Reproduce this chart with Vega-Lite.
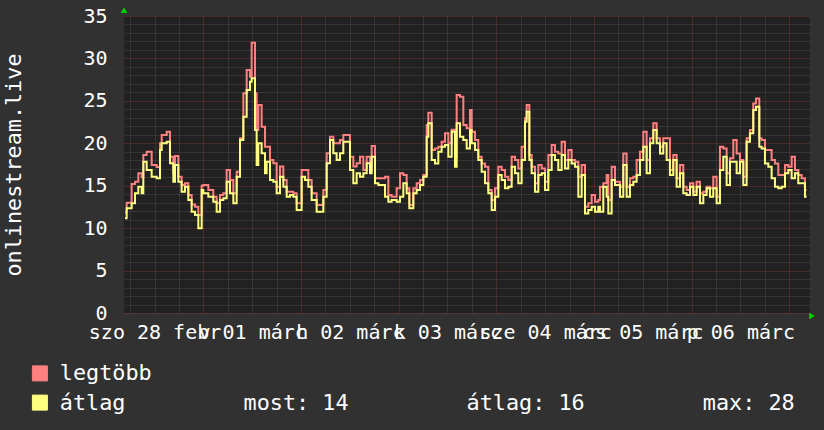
{
"$schema": "https://vega.github.io/schema/vega-lite/v6.json",
"width": 686, "height": 297,
"autosize": {"type": "none"},
"padding": {"left": 124, "top": 16, "right": 14, "bottom": 117},
"background": "#313131",
"config": {
  "view": {"fill": "#212121", "stroke": null},
  "font": "DejaVu Sans Mono",
  "axis": {"labelFont": "DejaVu Sans Mono", "titleFont": "DejaVu Sans Mono", "labelColor": "#ffffff", "titleColor": "#ffffff", "domain": false, "ticks": false, "gridOpacity": 1},
  "legend": {"labelFont": "DejaVu Sans Mono", "labelFontSize": 21.8, "labelColor": "#ffffff"}
},
"data": {"values": [
{"h":4.75,"max":11.83,"avg":11.16},{"h":5.15,"max":13.0,"avg":12.34},{"h":6.38,"max":15.2,"avg":12.93},{"h":7.2,"max":15.48,"avg":14.1},{"h":8.02,"max":16.46,"avg":14.89},{"h":8.84,"max":16.0,"avg":14.1},{"h":9.25,"max":18.62,"avg":17.83},{"h":10.07,"max":19.0,"avg":16.85},{"h":11.3,"max":17.44,"avg":16.07},{"h":12.53,"max":17.2,"avg":15.87},{"h":13.35,"max":20.0,"avg":19.21},{"h":13.76,"max":20.98,"avg":20.0},{"h":14.99,"max":21.37,"avg":20.19},{"h":15.8,"max":18.42,"avg":17.64},{"h":16.62,"max":16.5,"avg":15.48},{"h":17.03,"max":18.5,"avg":17.44},{"h":17.85,"max":16.07,"avg":15.48},{"h":18.67,"max":15.09,"avg":14.3},{"h":19.49,"max":15.3,"avg":14.89},{"h":20.31,"max":13.91,"avg":13.32},{"h":21.13,"max":12.8,"avg":11.94},{"h":21.95,"max":12.53,"avg":11.55},{"h":22.77,"max":11.55,"avg":10.0},{"h":23.59,"max":15.0,"avg":14.5},{"h":24.0,"max":15.09,"avg":14.1},{"h":25.23,"max":14.5,"avg":13.71},{"h":26.45,"max":13.71,"avg":13.12},{"h":27.27,"max":12.93,"avg":11.94},{"h":28.09,"max":13.9,"avg":13.32},{"h":28.91,"max":14.1,"avg":13.52},{"h":29.73,"max":16.85,"avg":15.48},{"h":30.55,"max":15.68,"avg":14.1},{"h":31.37,"max":14.1,"avg":12.93},{"h":32.19,"max":16.65,"avg":16.07},{"h":33.01,"max":20.6,"avg":20.39},{"h":33.83,"max":25.89,"avg":23.14},{"h":34.65,"max":28.64,"avg":26.28},{"h":35.47,"max":27.85,"avg":27.26},{"h":35.87,"max":31.86,"avg":27.66},{"h":36.7,"max":25.89,"avg":21.57},{"h":37.1,"max":21.57,"avg":17.44},{"h":37.51,"max":24.51,"avg":20.0},{"h":38.33,"max":21.96,"avg":18.82},{"h":39.15,"max":19.6,"avg":16.46},{"h":39.56,"max":19.6,"avg":17.83},{"h":40.38,"max":18.03,"avg":15.68},{"h":41.2,"max":17.64,"avg":15.48},{"h":42.02,"max":14.89,"avg":14.1},{"h":42.84,"max":17.25,"avg":16.07},{"h":43.66,"max":15.68,"avg":14.89},{"h":44.48,"max":14.3,"avg":13.71},{"h":45.3,"max":14.3,"avg":13.91},{"h":46.12,"max":14.1,"avg":13.71},{"h":46.93,"max":12.93,"avg":12.14},{"h":48.16,"max":16.85,"avg":16.07},{"h":48.98,"max":16.85,"avg":15.68},{"h":49.8,"max":15.68,"avg":14.89},{"h":50.62,"max":14.1,"avg":13.32},{"h":51.85,"max":12.73,"avg":11.94},{"h":53.49,"max":14.5,"avg":13.71},{"h":54.31,"max":18.82,"avg":17.64},{"h":55.13,"max":20.78,"avg":20.39},{"h":55.95,"max":19.99,"avg":18.82},{"h":56.76,"max":19.99,"avg":18.03},{"h":57.58,"max":20.39,"avg":18.82},{"h":58.4,"max":20.98,"avg":20.19},{"h":60.04,"max":18.42,"avg":16.85},{"h":60.86,"max":17.25,"avg":15.28},{"h":61.68,"max":17.64,"avg":16.46},{"h":62.5,"max":18.42,"avg":16.07},{"h":63.32,"max":16.85,"avg":16.46},{"h":64.14,"max":18.42,"avg":17.64},
{"h":64.96,"max":16.85,"avg":16.46},{"h":65.37,"max":19.68,"avg":18.42},{"h":66.19,"max":15.87,"avg":15.28},{"h":67.01,"max":15.87,"avg":15.08},{"h":68.65,"max":16.06,"avg":13.71},{"h":69.47,"max":13.9,"avg":13.12},{"h":70.28,"max":13.71,"avg":13.31},{"h":71.51,"max":14.69,"avg":13.12},{"h":72.33,"max":16.46,"avg":13.71},{"h":73.15,"max":16.26,"avg":15.28},{"h":73.97,"max":14.69,"avg":14.1},{"h":74.63,"max":12.72,"avg":12.33},{"h":75.61,"max":14.69,"avg":14.1},{"h":76.43,"max":15.28,"avg":14.49},{"h":77.25,"max":15.67,"avg":15.08},{"h":78.07,"max":16.26,"avg":16.06},{"h":78.89,"max":22.15,"avg":20.78},{"h":79.3,"max":23.6,"avg":22.35},{"h":80.12,"max":19.21,"avg":18.03},{"h":80.93,"max":19.4,"avg":17.63},{"h":81.75,"max":19.6,"avg":19.01},{"h":82.57,"max":20.19,"avg":19.6},{"h":83.39,"max":21.17,"avg":19.79},{"h":84.21,"max":19.99,"avg":18.42},{"h":85.03,"max":21.6,"avg":21.37},{"h":85.85,"max":18.42,"avg":17.24},{"h":86.26,"max":25.69,"avg":22.35},{"h":87.08,"max":25.49,"avg":20.78},{"h":87.9,"max":22.15,"avg":20.38},{"h":88.72,"max":21.76,"avg":19.4},{"h":89.54,"max":23.92,"avg":21.56},{"h":89.95,"max":21.37,"avg":19.99},{"h":90.76,"max":20.38,"avg":19.21},{"h":91.58,"max":18.42,"avg":18.03},{"h":92.4,"max":17.63,"avg":16.65},{"h":93.22,"max":17.24,"avg":15.28},{"h":94.04,"max":14.49,"avg":14.1},{"h":94.86,"max":13.31,"avg":12.13},{"h":95.68,"max":14.69,"avg":13.71},{"h":96.5,"max":17.24,"avg":16.26},{"h":97.32,"max":16.85,"avg":15.67},{"h":98.14,"max":16.06,"avg":14.69},{"h":98.96,"max":15.67,"avg":14.88},{"h":99.78,"max":18.42,"avg":17.24},{"h":100.6,"max":18.03,"avg":16.46},{"h":101.41,"max":17.04,"avg":15.28},{"h":102.23,"max":19.6,"avg":18.03},{"h":103.05,"max":22.94,"avg":22.54},{"h":103.46,"max":24.51,"avg":23.72},{"h":104.12,"max":18.62,"avg":18.03},{"h":104.69,"max":17.24,"avg":16.46},{"h":105.51,"max":15.28,"avg":14.3},{"h":106.33,"max":17.44,"avg":16.26},{"h":107.15,"max":17.04,"avg":16.46},{"h":107.97,"max":15.47,"avg":14.49},{"h":108.79,"max":18.62,"avg":16.85},{"h":109.61,"max":19.79,"avg":18.62},{"h":110.43,"max":19.01,"avg":18.03},{"h":111.24,"max":18.81,"avg":16.85},{"h":112.06,"max":20.19,"avg":18.62},{"h":112.88,"max":18.03,"avg":17.04},{"h":113.7,"max":19.21,"avg":18.03},{"h":114.52,"max":18.03,"avg":17.63},{"h":115.34,"max":17.83,"avg":17.24},{"h":116.16,"max":16.06,"avg":13.71},{"h":116.98,"max":17.44,"avg":16.26},{"h":117.8,"max":12.53,"avg":11.74},{"h":118.62,"max":12.92,"avg":12.13},{"h":119.44,"max":13.9,"avg":12.53},{"h":120.26,"max":13.12,"avg":11.94},{"h":121.07,"max":13.31,"avg":12.53},
{"h":121.48,"max":14.88,"avg":11.94},{"h":122.3,"max":15.28,"avg":14.88},{"h":123.12,"max":16.26,"avg":13.71},{"h":123.53,"max":13.31,"avg":11.74},{"h":124.35,"max":17.24,"avg":15.67},{"h":125.17,"max":15.47,"avg":15.08},{"h":126.4,"max":14.88,"avg":13.71},{"h":127.21,"max":18.81,"avg":17.44},{"h":128.03,"max":14.88,"avg":13.71},{"h":128.85,"max":15.87,"avg":15.08},{"h":129.67,"max":16.06,"avg":15.47},{"h":130.49,"max":18.03,"avg":16.26},{"h":131.31,"max":19.01,"avg":18.03},{"h":132.13,"max":21.37,"avg":19.6},{"h":132.95,"max":18.03,"avg":16.46},{"h":133.77,"max":20.58,"avg":19.99},{"h":134.59,"max":22.35,"avg":21.56},{"h":135.41,"max":20.58,"avg":19.99},{"h":136.23,"max":19.6,"avg":18.81},{"h":137.04,"max":20.58,"avg":19.99},{"h":137.86,"max":20.58,"avg":18.03},{"h":138.68,"max":16.85,"avg":16.26},{"h":139.5,"max":18.62,"avg":18.03},{"h":140.32,"max":15.87,"avg":14.88},{"h":141.14,"max":17.44,"avg":16.46},{"h":141.96,"max":14.88,"avg":14.1},{"h":142.78,"max":14.49,"avg":13.9},{"h":143.6,"max":15.28,"avg":14.88},{"h":144.42,"max":14.3,"avg":13.9},{"h":145.24,"max":15.47,"avg":14.88},{"h":146.06,"max":14.1,"avg":12.92},{"h":146.88,"max":14.3,"avg":13.9},{"h":147.69,"max":14.88,"avg":14.69},{"h":148.51,"max":14.69,"avg":13.71},{"h":149.33,"max":16.06,"avg":14.69},{"h":150.15,"max":13.71,"avg":12.92},{"h":150.97,"max":19.6,"avg":16.85},{"h":151.79,"max":19.4,"avg":18.42},{"h":152.61,"max":16.46,"avg":15.08},{"h":153.43,"max":18.23,"avg":17.83},{"h":154.25,"max":20.38,"avg":17.83},{"h":155.07,"max":18.81,"avg":16.46},{"h":155.89,"max":18.03,"avg":17.83},{"h":156.71,"max":16.06,"avg":15.08},{"h":157.52,"max":20.58,"avg":20.19},{"h":158.34,"max":21.56,"avg":21.17},{"h":159.16,"max":24.7,"avg":23.92},{"h":159.82,"max":25.29,"avg":24.31},{"h":160.64,"max":20.58,"avg":19.6},{"h":161.21,"max":20.38,"avg":19.4},{"h":162.03,"max":19.21,"avg":17.63},{"h":162.85,"max":19.21,"avg":17.24},{"h":163.67,"max":18.03,"avg":15.87},{"h":164.49,"max":17.63,"avg":14.88},{"h":165.31,"max":16.26,"avg":14.69},{"h":166.13,"max":16.26,"avg":14.88},{"h":166.95,"max":17.44,"avg":16.46},{"h":167.77,"max":17.24,"avg":16.85},{"h":168.59,"max":18.42,"avg":15.87},{"h":169.4,"max":16.85,"avg":16.46},{"h":170.22,"max":16.26,"avg":15.28},{"h":171.04,"max":15.87,"avg":15.28},{"h":171.86,"max":14.49,"avg":13.71},{"h":172.27,"max":14.49,"avg":13.71}
]},
"layer": [
  {
    "mark": {"type": "line", "interpolate": "step-after", "strokeWidth": 2, "clip": true},
    "encoding": {
      "x": {"field": "h", "type": "quantitative",
        "scale": {"domain": [4.5, 173.1], "nice": false, "zero": false},
        "axis": {"orient": "bottom", "title": null,
          "values": [6,12,18,30,36,42,54,60,66,78,84,90,102,108,114,126,132,138,150,156,162],
          "grid": true, "gridColor": "#4a4a4a", "gridDash": [1,1],
          "labelExpr": "datum.value == 12 ? 'szo 28 febr' : datum.value == 36 ? 'v 01 márc' : datum.value == 60 ? 'h 02 márc' : datum.value == 84 ? 'k 03 márc' : datum.value == 108 ? 'sze 04 márc' : datum.value == 132 ? 'cs 05 márc' : datum.value == 156 ? 'p 06 márc' : ''",
          "labelFontSize": 20, "labelPadding": 25, "labelBaseline": "alphabetic", "labelAlign": "center",
          "labelOverlap": false, "labelFlush": false, "labelBound": false}},
      "y": {"field": "max", "type": "quantitative",
        "scale": {"domain": [0, 35], "nice": false},
        "axis": {"orient": "left", "title": "onlinestream.live",
          "values": [0,5,10,15,20,25,30,35],
          "grid": true, "gridColor": "#7a3535", "gridDash": [1,1],
          "labelFontSize": 20, "labelPadding": 17,
          "titleX": -111, "titleY": 148.5, "titleAngle": 270, "titleAlign": "center", "titleBaseline": "middle",
          "titleFontSize": 21.8, "titleFontWeight": "normal"}},
      "color": {"datum": "legtöbb", "type": "nominal",
        "scale": {"domain": ["legtöbb", "átlag"], "range": ["#ff8080", "#ffff80"]},
        "legend": {"orient": "none", "legendX": -95, "legendY": 346.5, "title": null,
          "symbolType": "square", "symbolSize": 225, "symbolStrokeWidth": 1, "symbolStrokeColor": "#000000",
          "labelOffset": 9, "rowPadding": 6.2, "padding": 0, "labelLimit": 1000,
          "labelExpr": "datum.label == 'átlag' ? 'átlag\u00a0\u00a0\u00a0\u00a0\u00a0\u00a0\u00a0\u00a0\u00a0most: 14\u00a0\u00a0\u00a0\u00a0\u00a0\u00a0\u00a0\u00a0\u00a0átlag: 16\u00a0\u00a0\u00a0\u00a0\u00a0\u00a0\u00a0\u00a0\u00a0max: 28' : datum.label",
          "encode": {"symbols": {"update": {"fill": {"scale": "color", "field": "value"}, "stroke": {"value": "#000000"}, "strokeWidth": {"value": 1}, "opacity": {"value": 1}}}}}}
    }
  },
  {
    "mark": {"type": "line", "interpolate": "step-after", "strokeWidth": 2, "clip": true},
    "encoding": {
      "x": {"field": "h", "type": "quantitative",
        "scale": {"domain": [4.5, 173.1], "nice": false, "zero": false},
        "axis": {"orient": "top", "title": null, "values": [24,48,72,96,120,144,168],
          "grid": true, "gridColor": "#7a3535", "gridDash": [1,1], "labels": false}},
      "y": {"field": "avg", "type": "quantitative",
        "scale": {"domain": [0, 35], "nice": false},
        "axis": {"orient": "right", "title": null,
          "values": [1,2,3,4,6,7,8,9,11,12,13,14,16,17,18,19,21,22,23,24,26,27,28,29,31,32,33,34],
          "grid": true, "gridColor": "#4a4a4a", "gridDash": [1,1], "labels": false}},
      "color": {"datum": "átlag", "type": "nominal"}
    }
  },
  {
    "data": {"values": [{}]},
    "mark": {"type": "point", "shape": "triangle-up", "filled": true, "color": "#00d000", "size": 45, "opacity": 1},
    "encoding": {
      "x": {"datum": 4.5, "type": "quantitative", "scale": {"domain": [4.5, 173.1], "nice": false, "zero": false}, "axis": null},
      "y": {"datum": 35.7, "type": "quantitative", "scale": {"domain": [0, 35], "nice": false}, "axis": null}
    }
  },
  {
    "data": {"values": [{}]},
    "mark": {"type": "point", "shape": "triangle-right", "filled": true, "color": "#00d000", "size": 45, "opacity": 1},
    "encoding": {
      "x": {"datum": 173.6, "type": "quantitative", "scale": {"domain": [4.5, 173.1], "nice": false, "zero": false}, "axis": null},
      "y": {"datum": -0.35, "type": "quantitative", "scale": {"domain": [0, 35], "nice": false}, "axis": null}
    }
  }
],
"resolve": {"scale": {"x": "independent", "y": "independent"}, "axis": {"x": "independent", "y": "independent"}}
}
